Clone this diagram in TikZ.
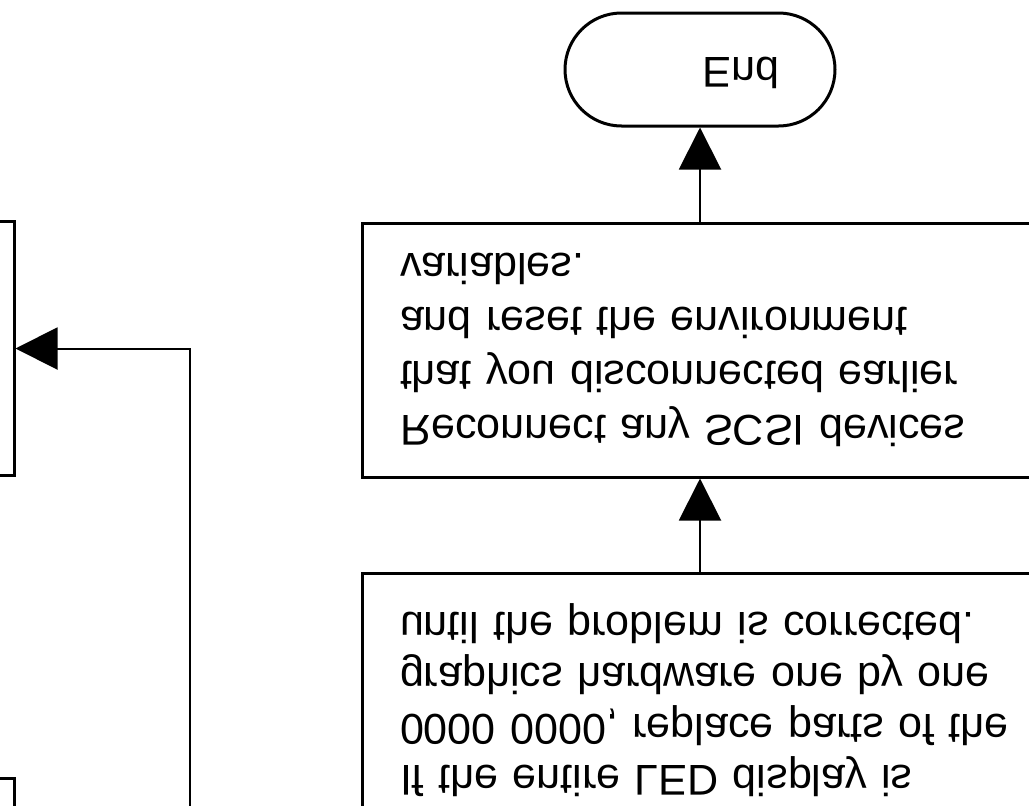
\documentclass[tikz,border=0pt]{standalone}
\usepackage{fontspec}
\setmainfont{Liberation Sans}
\usetikzlibrary{arrows.meta,shapes.misc}
\begin{document}
\begin{tikzpicture}[x=1pt,y=-1pt,
  txt/.style={font=\fontsize{43.1pt}{54pt}\selectfont},
  procbox/.style={draw, line width=3pt, rectangle, yscale=-1,
    minimum width=676pt, minimum height=254pt,
    inner xsep=38pt, text width=600pt, align=left},
  blankbox/.style={draw, line width=3pt, rectangle,
    minimum width=676pt, minimum height=254pt, inner sep=0pt},
  term/.style={draw, line width=3pt, shape=rounded rectangle, yscale=-1,
    minimum width=270pt, minimum height=113pt, inner sep=0pt, text depth=8pt},
  conn/.style={line width=2pt, -{Triangle[length=42pt,width=42pt]}}
]
\useasboundingbox (0,0) rectangle (1029,806);
\clip (0,0) rectangle (1029,806);

\node[term, txt] (end) at (700,69.5) {\hspace*{82pt}End};

\node[procbox, txt] (box2) at (700,350)
  {\mbox{Reconnect any SCSI devices}\\\mbox{that you disconnected earlier}\\\mbox{and reset the environment}\\\mbox{variables.}};

\node[procbox, font=\fontsize{43.1pt}{51pt}\selectfont] (box3) at (700,700)
  {\mbox{If the entire LED display is}\\\mbox{0000 0000, replace parts of the}\\\mbox{graphics hardware one by one}\\\mbox{until the problem is corrected.}};

\node[blankbox] (L1) at (-324,348.5) {};
\node[blankbox] (L2) at (-324,905) {};

\coordinate (loopstart) at (190,840);

\draw[conn] (box3.south) -- (box2.north);
\draw[conn] (box2.south) -- (end.north);
\draw[conn] (loopstart) |- (L1.east);
\end{tikzpicture}
\end{document}
